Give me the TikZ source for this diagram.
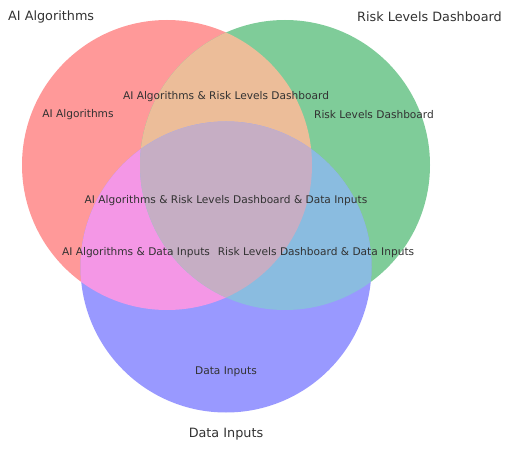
\documentclass[tikz,border=0pt]{standalone}
\usepackage{fontspec}
\setmainfont{DejaVu Sans}
\definecolor{cA}{RGB}{255,153,153}
\definecolor{cB}{RGB}{127,204,153}
\definecolor{cC}{RGB}{153,153,255}
\definecolor{cAB}{RGB}{236,189,153}
\definecolor{cAC}{RGB}{244,151,230}
\definecolor{cBC}{RGB}{138,188,224}
\definecolor{cABC}{RGB}{198,174,196}
\definecolor{txt}{RGB}{50,50,50}
\begin{document}
\begin{tikzpicture}[x=1pt,y=-1pt,
  setlabel/.style={font=\fontsize{12.8}{14}\selectfont,text=txt,inner sep=0pt},
  reglabel/.style={font=\fontsize{10.6}{12}\selectfont,text=txt,inner sep=0pt}]
\useasboundingbox (0,0) rectangle (509,449);
\def\cAp{(167,165) circle[radius=145]}
\def\cBp{(285,165) circle[radius=145]}
\def\cCp{(226,267) circle[radius=145.5]}
\fill[cA] \cAp;
\fill[cB] \cBp;
\fill[cC] \cCp;
\begin{scope}\clip \cAp; \fill[cAB] \cBp; \end{scope}
\begin{scope}\clip \cAp; \fill[cAC] \cCp; \end{scope}
\begin{scope}\clip \cBp; \fill[cBC] \cCp; \end{scope}
\begin{scope}\clip \cAp; \clip \cBp; \fill[cABC] \cCp; \end{scope}
\node[setlabel,anchor=west] (tA) at (8,17) {AI Algorithms};
\node[setlabel,anchor=east] (tB) at (502,17) {Risk Levels Dashboard};
\node[setlabel] (tC) at (226,434.5) {Data Inputs};
\node[reglabel] (rA) at (78,114.5) {AI Algorithms};
\node[reglabel] (rB) at (374,114.5) {Risk Levels Dashboard};
\node[reglabel] (rAB) at (226,96.5) {AI Algorithms \& Risk Levels Dashboard};
\node[reglabel] (rABC) at (226,200.5) {AI Algorithms \& Risk Levels Dashboard \& Data Inputs};
\node[reglabel] (rAC) at (136,252.5) {AI Algorithms \& Data Inputs};
\node[reglabel] (rBC) at (316,252.5) {Risk Levels Dashboard \& Data Inputs};
\node[reglabel] (rC) at (226,371.5) {Data Inputs};
\end{tikzpicture}
\end{document}
